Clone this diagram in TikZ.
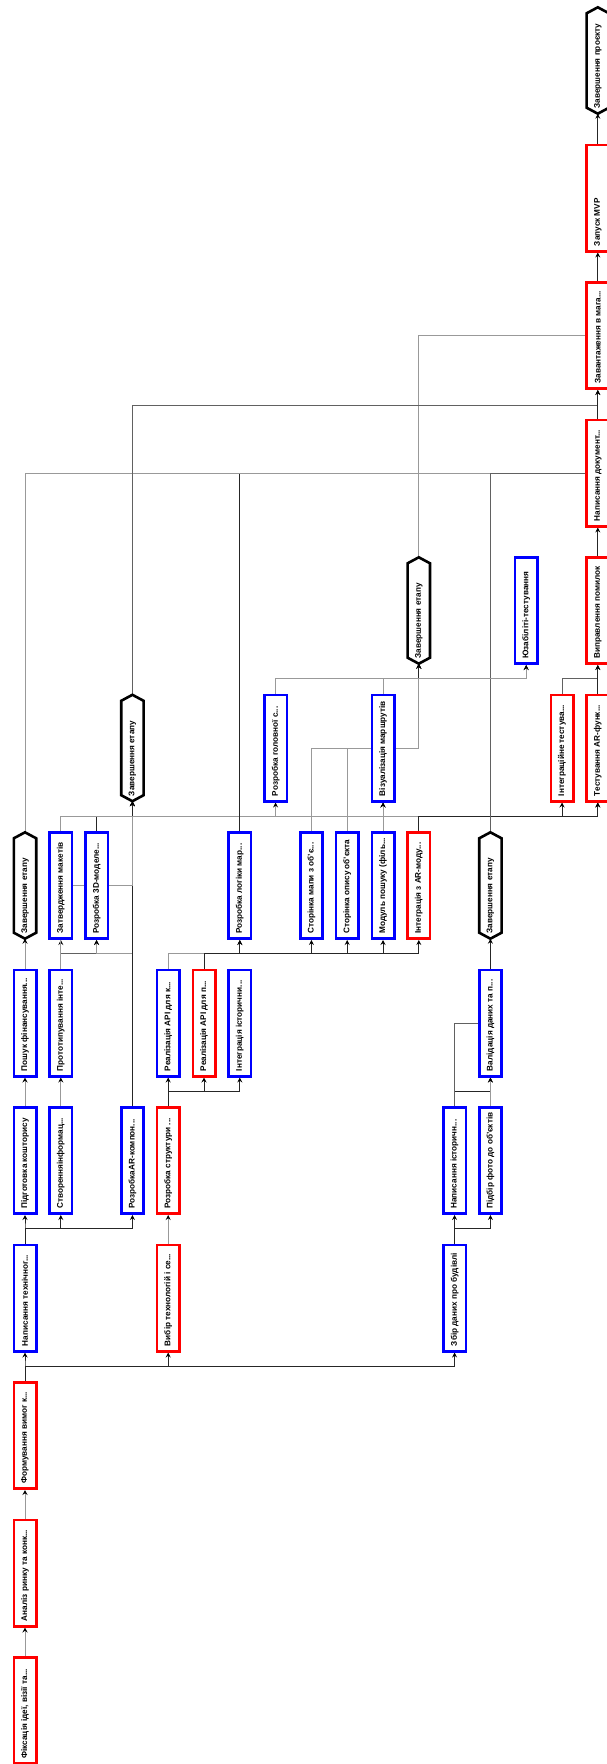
\documentclass[tikz,border=0pt]{standalone}
\usepackage{fontspec}
\setmainfont{Liberation Sans}
\usepackage{graphicx}
\usetikzlibrary{arrows.meta,backgrounds}
\definecolor{taskblue}{RGB}{0,0,255}
\definecolor{taskred}{RGB}{255,0,0}
\newcommand{\vt}[1]{\rotatebox{90}{\makebox[96pt][l]{#1}}}
\newcommand{\stagenode}[3]{%
  \node[stage] (#1) at (#2) {\vt{#3}};
  \draw[stageline] (#1.north) -- ([yshift=-6pt]#1.north east) -- ([yshift=6pt]#1.south east)
    -- (#1.south) -- ([yshift=6pt]#1.south west) -- ([yshift=-6pt]#1.north west) -- cycle;}
\tikzset{
  task/.style={draw=taskblue,line width=2.6pt,fill=white,minimum width=22.4pt,minimum height=106.4pt,inner sep=0pt,font=\fontsize{8.2}{9}\selectfont\bfseries},
  crit/.style={task,draw=taskred},
  stage/.style={minimum width=22.4pt,minimum height=106.4pt,inner sep=0pt,outer sep=0pt,font=\fontsize{8.2}{9}\selectfont\bfseries},
  stageline/.style={line width=2.6pt,draw=black},
  ar/.style={-{Stealth[length=5pt,width=5pt,inset=1.8pt,color=black]},line width=0.9pt,black!40},
  arm/.style={ar,black!62},
  ard/.style={ar,black!85},
  ln/.style={line width=0.9pt,black!40},
  lnm/.style={ln,black!62},
  lnd/.style={ln,black!85},
}
\begin{document}
\begin{tikzpicture}[x=1pt,y=-1pt]
  \useasboundingbox (0,0) rectangle (606,1764);
  % start chain
  \node[crit] (idea) at (25,1710.5) {\vt{Фіксація ідеї, візії та...}};
  \node[crit] (market) at (25,1573) {\vt{Аналіз ринку та конк...}};
  \node[crit] (reqs) at (25,1435.5) {\vt{Формування вимог к...}};
  \node[task] (techspec) at (25,1298) {\vt{Написання технічног...}};
  \node[task] (budget) at (25,1160.5) {\vt{Підготовка кошторису}};
  \node[task] (funding) at (25,1023) {\vt{Пошук фінансування...}};
  \stagenode{stA}{25,885.5}{Завершення етапу}
  % design
  \node[task] (infoarch) at (60.8,1160.5) {\vt{Створенняінформац...}};
  \node[task] (proto) at (60.8,1023) {\vt{Прототипування інте...}};
  \node[task] (mockok) at (60.8,885.5) {\vt{Затвердження макетів}};
  \node[task] (models3d) at (96.6,885.5) {\vt{Розробка 3D-моделе...}};
  \node[task] (arcomp) at (132.4,1160.5) {\vt{РозробкаAR-компон...}};
  \stagenode{stB}{132.4,748}{Завершення етапу}
  % development
  \node[crit] (techsel) at (168.2,1298) {\vt{Вибір технологій і се...}};
  \node[crit] (struct) at (168.2,1160.5) {\vt{Розробка структури ...}};
  \node[task] (apik) at (168.2,1023) {\vt{Реалізація API для к...}};
  \node[crit] (apip) at (204,1023) {\vt{Реалізація API для п...}};
  \node[task] (hist) at (239.8,1023) {\vt{Інтеграція історични...}};
  \node[task] (routelogic) at (239.8,885.5) {\vt{Розробка логіки мар...}};
  \node[task] (mainpage) at (275.6,748) {\vt{Розробка головної с...}};
  \node[task] (mappage) at (311.4,885.5) {\vt{Сторінка мапи з об'є...}};
  \node[task] (descpage) at (347.2,885.5) {\vt{Сторінка опису об'єкта}};
  \node[task] (search) at (383,885.5) {\vt{Модуль пошуку (філь...}};
  \node[task] (routevis) at (383,748) {\vt{Візуалізація маршрутів}};
  \node[crit] (arint) at (418.8,885.5) {\vt{Інтеграція з AR-моду...}};
  \stagenode{stC}{418.8,610.5}{Завершення етапу}
  % content
  \node[task] (datacol) at (454.6,1298) {\vt{Збір даних про будівлі}};
  \node[task] (histtext) at (454.6,1160.5) {\vt{Написання історичн...}};
  \node[task] (photos) at (490.4,1160.5) {\vt{Підбір фото до об'єктів}};
  \node[task] (valid) at (490.4,1023) {\vt{Валідація даних та п...}};
  \stagenode{stD}{490.4,885.5}{Завершення етапу}
  % testing and release
  \node[task] (usab) at (526.2,610.5) {\vt{Юзабіліті-тестування}};
  \node[crit] (inttest) at (562,748) {\vt{Інтеграційне тестува...}};
  \node[crit] (artest) at (597.8,748) {\vt{Тестування AR-функ...}};
  \node[crit] (bugfix) at (597.8,610.5) {\vt{Виправлення помилок}};
  \node[crit] (docs) at (597.8,473) {\vt{Написання документ...}};
  \node[crit] (upload) at (597.8,335.5) {\vt{Завантаження в мага...}};
  \node[crit] (mvp) at (597.8,198) {\vt{Запуск MVP}};
  \stagenode{stE}{597.8,60.5}{Завершення проєкту}

  \begin{scope}[on background layer]
    \draw[ar] (idea.north) -- (market.south);
    \draw[ar] (market.north) -- (reqs.south);
    \foreach \tg in {techspec,techsel,datacol} \draw[ard] (reqs.north) -- ++(0,-15) -| (\tg.south);
    \foreach \tg in {budget,infoarch,arcomp} \draw[ard] (techspec.north) -- ++(0,-15) -| (\tg.south);
    \draw[ar] (budget.north) -- (funding.south);
    \draw[ar] (infoarch.north) -- (proto.south);
    \draw[ar] (funding.north) -- (stA.south);
    \foreach \tg in {mockok,models3d} \draw[arm] (proto.north) -- ++(0,-15) -| (\tg.south);
    \draw[ar] (arcomp.north) -- ++(0,-153) -| (models3d.south);
    \draw[ard] (arcomp.north) -- (stB.south);
    \draw[ar] (proto.north) -- ++(0,-83) -| (stB.south);
    \foreach \sr in {mockok,models3d} \draw[ard] (\sr.north) -- ++(0,-15) -| (stB.south);
    \draw[ar] (mockok.north) -- ++(0,-15) -| (artest.south);
    \foreach \tg in {mainpage,routevis} \draw[ar] (routelogic.north) -- ++(0,-15) -| (\tg.south);
    \foreach \tg in {inttest,artest} \draw[ard] (arint.north) -- ++(0,-15) -| (\tg.south);
    \draw[ar] (techsel.north) -- (struct.south);
    \foreach \tg in {apik,apip,hist} \draw[ard] (struct.north) -- ++(0,-15) -| (\tg.south);
    \draw[ar] (apik.north) -- ++(0,-15) -| (routelogic.south);
    \foreach \tg in {routelogic,mappage,descpage,search,arint} \draw[ard] (apip.north) -- ++(0,-15) -| (\tg.south);
    \draw[ar] (search.north) -- (routevis.south);
    \foreach \sr in {mappage,descpage} \draw[ar] (\sr.north) -- ++(0,-83) -| (stC.south);
    \draw[lnd] (routelogic.north) |- (docs.west);
    \draw[ln] (stA.north) |- (docs.west);
    \draw[lnm] (stD.north) |- (docs.west);
    \foreach \sr in {mainpage,routevis} {
      \draw[ard] (\sr.north) -- ++(0,-15) -| (stC.south);
      \draw[ar] (\sr.north) -- ++(0,-15) -| (usab.south);
    }
    \draw[ln] (stC.north) |- (upload.west);
    \draw[arm] (stB.north) -- ++(0,-289) -| (upload.south);
    \draw[arm] (inttest.north) -- ++(0,-15) -| (bugfix.south);
    \draw[ard] (artest.north) -- (bugfix.south);
    \draw[ard] (bugfix.north) -- (docs.south);
    \draw[ard] (docs.north) -- (upload.south);
    \draw[ard] (upload.north) -- (mvp.south);
    \draw[ard] (mvp.north) -- (stE.south);
    \foreach \tg in {histtext,photos} \draw[ard] (datacol.north) -- ++(0,-15) -| (\tg.south);
    \draw[ard] (histtext.north) -- ++(0,-15) -| (valid.south);
    \draw[lnm] (histtext.north) |- (valid.west);
    \draw[ar] (photos.north) -- (valid.south);
    \draw[ard] (valid.north) -- (stD.south);
  \end{scope}
\end{tikzpicture}
\end{document}
